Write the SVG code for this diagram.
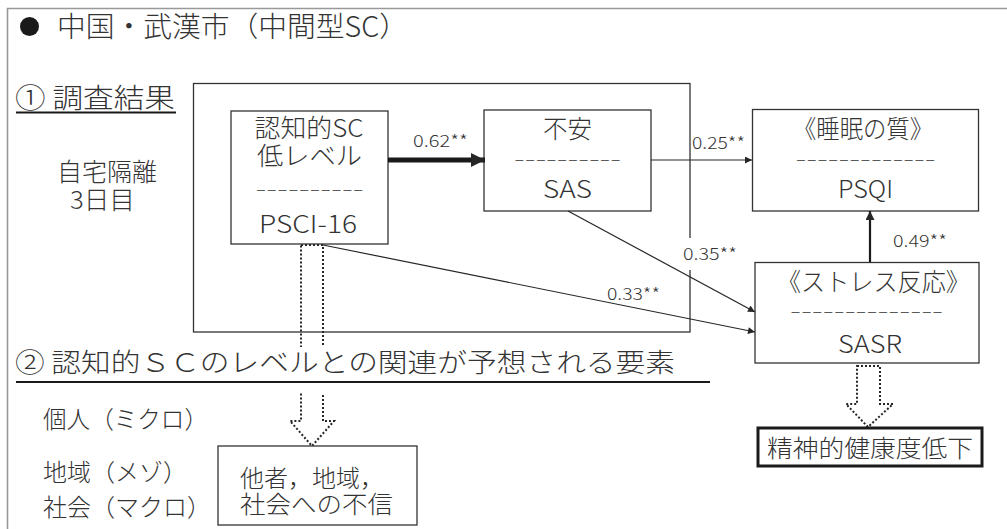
<svg xmlns="http://www.w3.org/2000/svg" width="1007" height="529" viewBox="0 0 1007 529">
<style>
text{font-family:"Noto Sans CJK JP","Noto Sans",sans-serif;fill:#333;font-weight:300}
.t{font-size:24px}
.n{font-size:25px;text-anchor:middle}
.d{font-size:16px;text-anchor:middle}
.lbl{font-size:17px}
.box{fill:#fff;stroke:#333;stroke-width:1.3}
.edge{fill:none;stroke:#262626;stroke-width:1.2}
.dot{fill:none;stroke:#262626;stroke-width:2;stroke-dasharray:2 2}
</style>
<defs>
<marker id="ah" viewBox="0 0 10 10" refX="10" refY="5" markerWidth="8" markerHeight="7" markerUnits="userSpaceOnUse" orient="auto"><path d="M0,0L10,5L0,10z" fill="#262626"/></marker>
<marker id="ahb" viewBox="0 0 10 10" refX="10" refY="5" markerWidth="15" markerHeight="14" markerUnits="userSpaceOnUse" orient="auto"><path d="M0,0L10,5L0,10z" fill="#262626"/></marker>
<marker id="ahm" viewBox="0 0 10 10" refX="10" refY="5" markerWidth="10" markerHeight="9" markerUnits="userSpaceOnUse" orient="auto"><path d="M0,0L10,5L0,10z" fill="#262626"/></marker>
</defs>
<rect width="1007" height="529" fill="#fff"/>
<path d="M7.5,529V8.5H1007" fill="none" stroke="#999" stroke-width="1.6"/>

<g id="title">
<circle cx="29.5" cy="26.5" r="9.5" fill="#1a1a1a"/>
<text x="57" y="37" font-size="28" textLength="351" lengthAdjust="spacingAndGlyphs">中国・武漢市（中間型SC）</text>
</g>

<g id="section1">
<text x="15" y="108" font-size="27" textLength="160" lengthAdjust="spacingAndGlyphs">① 調査結果</text>
<line x1="16" y1="112.5" x2="176" y2="112.5" stroke="#1a1a1a" stroke-width="2"/>
</g>

<g id="period">
<text class="n" x="107" y="181" textLength="100" lengthAdjust="spacingAndGlyphs">自宅隔離</text>
<text class="n" x="102.5" y="209" textLength="65" lengthAdjust="spacingAndGlyphs">3日目</text>
</g>

<g id="frame">
<rect x="193.5" y="83.5" width="496.5" height="248.5" fill="none" stroke="#333" stroke-width="1.3"/>
</g>

<g id="dotted-arrows">
<path class="dot" d="M301,245H323V421H334L312,446L290,421H301Z"/>
<path class="dot" d="M857,366H880V404H893L868,427L846,404H857Z"/>
</g>

<g id="section2">
<rect x="12" y="347" width="700" height="46" fill="#fff"/>
<text x="15" y="372" font-size="26" textLength="660" lengthAdjust="spacingAndGlyphs">② 認知的ＳＣのレベルとの関連が予想される要素</text>
<line x1="16" y1="382" x2="710" y2="382" stroke="#1a1a1a" stroke-width="2"/>
</g>

<g id="levels">
<text class="t" x="43" y="428" textLength="165" lengthAdjust="spacingAndGlyphs">個人（ミクロ）</text>
<text class="t" x="43" y="481">地域（メゾ）</text>
<text class="t" x="43" y="516">社会（マクロ）</text>
</g>

<g id="node-psci">
<rect class="box" x="231" y="111" width="157" height="133"/>
<text class="n" x="309" y="137" textLength="109" lengthAdjust="spacingAndGlyphs">認知的SC</text>
<text class="n" x="309.5" y="165" textLength="105" lengthAdjust="spacingAndGlyphs">低レベル</text>
<text class="d" x="309.5" y="195" textLength="108" lengthAdjust="spacingAndGlyphs">----------</text>
<text class="n" x="308" y="233" textLength="98" lengthAdjust="spacingAndGlyphs">PSCI-16</text>
</g>

<g id="node-sas">
<rect class="box" x="484" y="110" width="167" height="101"/>
<text class="n" x="567.5" y="138" textLength="49" lengthAdjust="spacingAndGlyphs">不安</text>
<text class="d" x="567.5" y="165" textLength="107" lengthAdjust="spacingAndGlyphs">----------</text>
<text class="n" x="567.5" y="198" textLength="49" lengthAdjust="spacingAndGlyphs">SAS</text>
</g>

<g id="node-psqi">
<rect class="box" x="752.5" y="109.5" width="226" height="101.5"/>
<text class="n" x="863" y="138" textLength="140" lengthAdjust="spacingAndGlyphs">《睡眠の質》</text>
<text class="d" x="865.5" y="165" textLength="140" lengthAdjust="spacingAndGlyphs">-------------</text>
<text class="n" x="865.5" y="198" textLength="55" lengthAdjust="spacingAndGlyphs">PSQI</text>
</g>

<g id="node-sasr">
<rect class="box" x="755" y="262.5" width="224" height="100.5"/>
<text class="n" x="873.5" y="291" textLength="193" lengthAdjust="spacingAndGlyphs">《ストレス反応》</text>
<text class="d" x="866.5" y="317" textLength="153" lengthAdjust="spacingAndGlyphs">--------------</text>
<text class="n" x="870" y="353" textLength="64" lengthAdjust="spacingAndGlyphs">SASR</text>
</g>

<g id="node-mental">
<rect x="758" y="428" width="224" height="38" fill="#fff" stroke="#1a1a1a" stroke-width="3"/>
<text class="t" x="767" y="457" textLength="206" lengthAdjust="spacingAndGlyphs">精神的健康度低下</text>
</g>

<g id="node-distrust">
<rect class="box" x="218" y="446" width="199" height="79"/>
<text class="t" x="240" y="487">他者，地域，</text>
<text class="t" x="240" y="513" textLength="153" lengthAdjust="spacingAndGlyphs">社会への不信</text>
</g>

<g id="connectors">
<line x1="388" y1="160" x2="485" y2="160" stroke="#1a1a1a" stroke-width="5" marker-end="url(#ahb)"/>
<line class="edge" x1="651" y1="160" x2="752" y2="160" marker-end="url(#ah)"/>
<line x1="870" y1="262" x2="870" y2="211" stroke="#1a1a1a" stroke-width="2.2" marker-end="url(#ahm)"/>
<line class="edge" x1="568" y1="211" x2="755" y2="312" marker-end="url(#ah)"/>
<line class="edge" x1="323" y1="245" x2="755" y2="332" marker-end="url(#ah)"/>
<text class="lbl" x="413" y="147" textLength="55" lengthAdjust="spacingAndGlyphs">0.62**</text>
<text class="lbl" x="692" y="149" textLength="53" lengthAdjust="spacingAndGlyphs">0.25**</text>
<text class="lbl" x="893" y="247" textLength="54" lengthAdjust="spacingAndGlyphs">0.49**</text>
<rect x="681" y="238" width="58" height="32" fill="#fff"/>
<text class="lbl" x="683" y="260" textLength="54" lengthAdjust="spacingAndGlyphs">0.35**</text>
<text class="lbl" x="607" y="300" textLength="53" lengthAdjust="spacingAndGlyphs">0.33**</text>
</g>
</svg>
